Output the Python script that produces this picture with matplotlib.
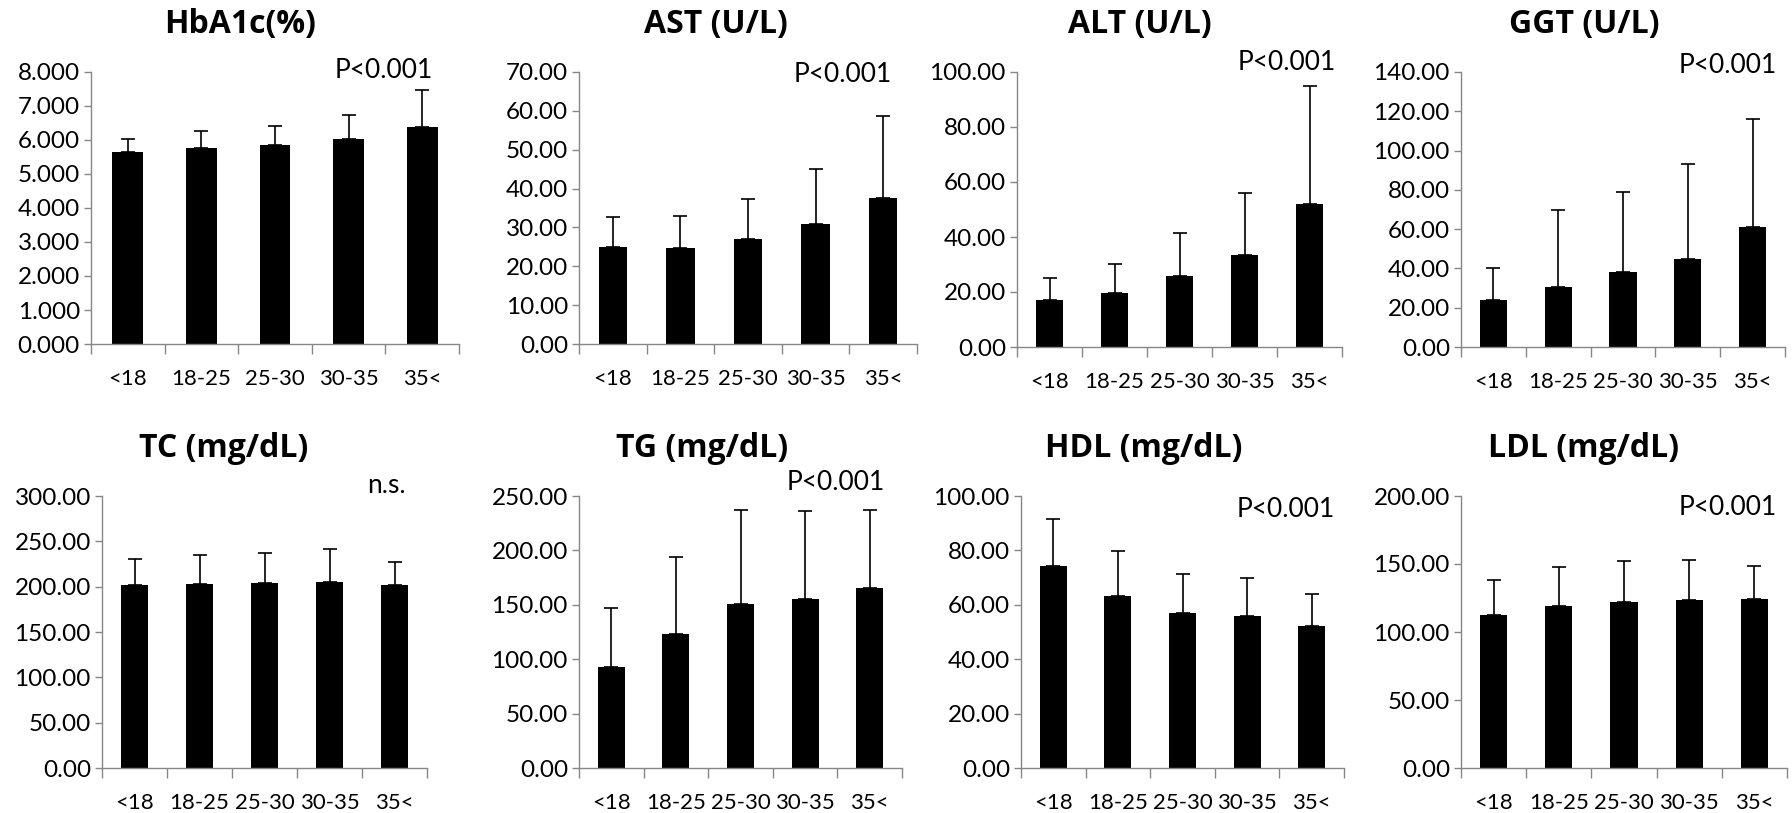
import matplotlib
matplotlib.use("Agg")
import matplotlib.pyplot as plt
from matplotlib.ticker import FormatStrFormatter, FixedLocator

plt.rcParams["font.family"] = ["Lato", "DejaVu Sans"]

# BMI groups
groups = ["<18", "18-25", "25-30", "30-35", "35<"]

# means, sd = error bar above mean
hba1c_mean = [5.65, 5.75, 5.86, 6.02, 6.37]
hba1c_sd = [0.38, 0.52, 0.55, 0.71, 1.10]
ast_mean = [24.9, 24.6, 27.1, 30.8, 37.6]
ast_sd = [7.9, 8.3, 10.2, 14.2, 21.2]
alt_mean = [17.1, 19.6, 25.8, 33.4, 51.9]
alt_sd = [7.9, 10.4, 15.8, 22.7, 42.9]
ggt_mean = [23.8, 30.6, 38.4, 44.7, 60.9]
ggt_sd = [16.3, 39.1, 40.5, 48.7, 55.4]
tc_mean = [201.8, 202.6, 204.0, 205.5, 202.2]
tc_sd = [29.1, 32.4, 33.1, 35.7, 25.4]
tg_mean = [92.5, 123.2, 150.7, 155.6, 165.7]
tg_sd = [54.5, 70.4, 86.1, 80.9, 71.7]
hdl_mean = [74.4, 63.4, 57.1, 56.0, 52.2]
hdl_sd = [17.3, 16.3, 14.1, 13.7, 11.8]
ldl_mean = [112.5, 118.9, 122.3, 123.3, 124.0]
ldl_sd = [25.5, 28.9, 29.9, 29.9, 24.5]

titles = ["HbA1c(%)", "AST (U/L)", "ALT (U/L)", "GGT (U/L)",
          "TC (mg/dL)", "TG (mg/dL)", "HDL (mg/dL)", "LDL (mg/dL)"]
means = [hba1c_mean, ast_mean, alt_mean, ggt_mean, tc_mean, tg_mean, hdl_mean, ldl_mean]
sds = [hba1c_sd, ast_sd, alt_sd, ggt_sd, tc_sd, tg_sd, hdl_sd, ldl_sd]
ymax = [8, 70, 100, 140, 300, 250, 100, 200]
ystep = [1, 10, 20, 20, 50, 50, 20, 50]
fmts = ["%.3f"] + ["%.2f"] * 7
pvals = ["P<0.001", "P<0.001", "P<0.001", "P<0.001", "n.s.", "P<0.001", "P<0.001", "P<0.001"]

W, H = 1792, 813
# axes boxes in pixels: left, right, top, bottom
boxes = [(91, 459, 72, 344), (579, 917, 72, 344), (1017, 1342, 72, 347), (1461, 1785, 72, 347),
         (102, 427, 496, 768), (579, 902, 496, 768), (1021, 1344, 496, 768), (1461, 1787, 496, 768)]
# p-value text: right edge x, center y (axes fraction)
ptxt = [(0.93, 1.007), (0.926, 0.99), (0.98, 1.033), (0.975, 1.025),
        (0.935, 1.04), (0.947, 1.048), (0.972, 0.949), (0.969, 0.956)]
# title centers in pixels
tpos = [(240, 25), (716, 25), (1140, 25), (1584, 25),
        (224, 448), (702, 448), (1144, 448), (1583, 448)]

fig = plt.figure(figsize=(W / 100, H / 100), dpi=100)
gray = "#868686"
x = list(range(len(groups)))

for i in range(8):
    l, r, t, b = boxes[i]
    ax = fig.add_axes([l / W, 1 - b / H, (r - l) / W, (b - t) / H])
    ax.bar(x, means[i], width=0.42, color="black")
    ax.errorbar(x, means[i], yerr=[[0] * 5, sds[i]], fmt="none", ecolor="black",
                elinewidth=1.2, capsize=5, capthick=1.2)
    ax.set_xlim(-0.5, 4.5)
    ax.set_ylim(0, ymax[i])
    ax.set_yticks([v * ystep[i] for v in range(int(ymax[i] / ystep[i]) + 1)])
    ax.yaxis.set_major_formatter(FormatStrFormatter(fmts[i]))
    # category boundary ticks, labels at category centers
    ax.xaxis.set_major_locator(FixedLocator([k - 0.5 for k in range(6)]))
    ax.xaxis.set_minor_locator(FixedLocator(x))
    ax.set_xticklabels([], minor=False)
    ax.set_xticklabels(groups, minor=True)
    ax.tick_params(axis="x", which="major", length=7, width=1, color=gray)
    ax.tick_params(axis="x", which="minor", length=0, pad=18, labelsize=16)
    ax.tick_params(axis="y", length=5, width=1, color=gray, labelsize=17.5, pad=3)
    for s in ["top", "right"]:
        ax.spines[s].set_visible(False)
    for s in ["left", "bottom"]:
        ax.spines[s].set_color(gray)
        ax.spines[s].set_linewidth(1)
    ax.text(ptxt[i][0], ptxt[i][1], pvals[i], transform=ax.transAxes,
            ha="right", va="center", fontsize=19)
    fig.text(tpos[i][0] / W, 1 - tpos[i][1] / H, titles[i], ha="center", va="center",
             fontsize=23, fontweight="bold", family=["Open Sans", "DejaVu Sans"])

fig.savefig("out.png", dpi=100)
